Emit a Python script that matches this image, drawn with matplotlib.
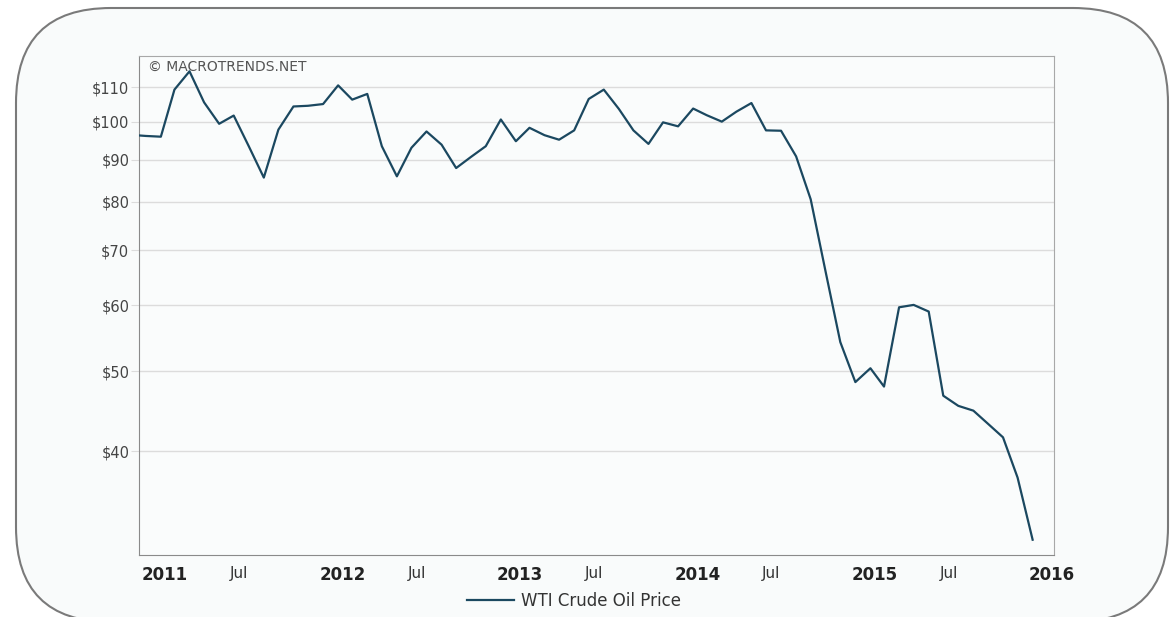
import pandas as pd
import numpy as np
import matplotlib
matplotlib.use('Agg')
import matplotlib.pyplot as plt
import matplotlib.transforms as mtransforms
from matplotlib.patches import FancyBboxPatch

# monthly points, plotted mid-month (Dec 2010 .. Jan 2016)
meses = pd.date_range('2010-12-01', '2016-01-01', freq='MS') + pd.Timedelta(days=14)
precos = [96.4, 96.1,
          95.9, 109.3, 115.0, 105.5, 99.4, 101.7, 93.4, 85.6, 97.8, 104.3, 104.5,
          105.0, 110.6, 106.3, 108.0, 93.4, 85.9, 93.0, 97.3, 93.8, 87.9, 90.7,
          93.4, 100.6, 94.7, 98.3, 96.3, 95.1, 97.6, 106.5, 109.3, 103.6, 97.6,
          94.0, 99.8, 98.7, 103.7, 101.8, 100.0, 102.8, 105.3, 97.6, 97.5, 90.8,
          80.6, 65.8, 54.2, 48.5, 50.4, 47.9, 59.7, 60.1, 59.0, 46.7, 45.4,
          44.8, 43.2, 41.6, 37.2, 31.3]

y_ticks = [40, 50, 60, 70, 80, 90, 100, 110]
x_ticks = ['2011-01-01', '2011-07-01', '2012-01-01', '2012-07-01', '2013-01-01',
           '2013-07-01', '2014-01-01', '2014-07-01', '2015-01-01', '2015-07-01',
           '2016-01-01']
x_labels = ['2011', 'Jul', '2012', 'Jul', '2013', 'Jul', '2014', 'Jul', '2015', 'Jul', '2016']

W, H = 1172, 617
fig = plt.figure(figsize=(W / 100, H / 100), dpi=100)
fig.patch.set_facecolor('white')

# fundo arredondado
bg = fig.add_axes([0, 0, 1, 1])
bg.set_xlim(0, W)
bg.set_ylim(H, 0)
bg.axis('off')
caixa = FancyBboxPatch((16, 8), 1152, 614, boxstyle='round,pad=0,rounding_size=95',
                       facecolor='#f9fbfb', edgecolor='#7a7a7a', linewidth=1.5, clip_on=False)
bg.add_patch(caixa)

ax = fig.add_axes([139 / W, 1 - 555 / H, (1054 - 139) / W, (555 - 56) / H])
ax.set_facecolor('#fafcfc')
ax.plot(meses, precos, color='#1b4860', linewidth=1.6, label='WTI Crude Oil Price', zorder=3)

ax.set_yscale('log')
ax.set_ylim(30, 120)
ax.set_yticks(y_ticks)
ax.set_yticklabels([f'${v}' for v in y_ticks])
ax.yaxis.set_minor_locator(matplotlib.ticker.NullLocator())
ax.grid(axis='y', color='#dcdcdc', linewidth=1)
ax.set_axisbelow(True)

ax.set_xlim(pd.Timestamp('2011-01-01'), pd.Timestamp('2016-02-28'))
ax.set_xticks([pd.Timestamp(t) for t in x_ticks])
ax.set_xticklabels(x_labels)
ax.tick_params(axis='x', length=0, pad=8)
ax.tick_params(axis='y', length=6, color='#dcdcdc', labelsize=10.5, labelcolor='#444444', pad=1)

desloc = mtransforms.ScaledTranslation(3 / 100, 0, fig.dpi_scale_trans)
for lab in ax.get_xticklabels():
    lab.set_horizontalalignment('left')
    lab.set_transform(lab.get_transform() + desloc)
    if lab.get_text() != 'Jul':
        lab.set_fontweight('bold')
        lab.set_fontsize(12)
        lab.set_color('#222222')
    else:
        lab.set_fontsize(11)
        lab.set_color('#333333')

for s in ['left', 'bottom']:
    ax.spines[s].set_color('#8a8a8a')
for s in ['top', 'right']:
    ax.spines[s].set_color('#a8a8a8')

fig.text(148 / W, 1 - 67 / H, '© MACROTRENDS.NET', fontsize=10, color='#555555', va='center')

ax.legend(loc='center', bbox_to_anchor=(574 / W, 1 - 601 / H), bbox_transform=fig.transFigure,
          frameon=False, fontsize=12, handlelength=2.8, handletextpad=0.45, labelcolor='#333333')

plt.savefig('out.png', dpi=100)
